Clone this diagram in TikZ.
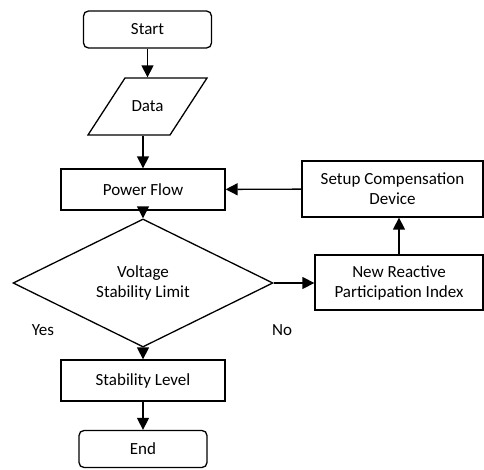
\documentclass[tikz,border=0pt]{standalone}
\usepackage{fontspec}
\setmainfont{Carlito}
\usepackage{tikz}
\usetikzlibrary{shapes.geometric}
\usetikzlibrary{arrows.meta}
\tikzstyle{Terminal}=[rectangle,rounded corners=5pt,draw,line width=1.3pt,minimum width=128pt,minimum height=37pt,inner sep=0pt]
\tikzstyle{InputBox}=[trapezium,trapezium left angle=57,trapezium right angle=123,draw,line width=1.3pt,text width=32pt,align=center,text height=11pt,text depth=0pt,inner xsep=6.5pt,inner ysep=23pt]
\tikzstyle{ProcBox}=[rectangle,draw,line width=1.3pt,minimum width=164pt,minimum height=41pt,inner sep=0pt,align=center]
\tikzstyle{Decision}=[diamond,draw,line width=1.3pt,minimum width=260pt,minimum height=97pt,inner sep=0pt,align=center]
\tikzstyle{FlowArrow}=[line width=1.4pt,-{Triangle[length=12pt,width=12pt]}]
\begin{document}
\begin{tikzpicture}[x=1pt,y=-1pt,font=\fontsize{17}{20}\selectfont]
        \useasboundingbox(0,0)rectangle(484,470);
        \node[Terminal](start)at(147.5,29.5){Start};
        \node[InputBox](data)at(147.5,106.5){Data};
        \node[ProcBox](power)at(143,189.5){Power Flow};
        \node[ProcBox,minimum width=181pt,minimum height=56pt](setup)at(392.5,189){Setup Compensation\\Device};
        \node[Decision](limit)at(143,283){Voltage\\Stability Limit};
        \node[ProcBox,minimum width=168pt,minimum height=55pt](index)at(399,282.5){New Reactive\\Participation Index};
        \node[ProcBox](level)at(143,380.5){Stability Level};
        \node[Terminal](end)at(143,449){End};
        \node(yes)at(43,330){Yes};
        \node(no)at(282,330){No};
        \draw[FlowArrow](start)--(data);
        \draw[FlowArrow](data.south-|power.north)--(power.north);
        \draw[FlowArrow](setup)--(power);
        \draw[FlowArrow](power)--(limit);
        \draw[FlowArrow](limit.east)--(index.west|-limit.east);
        \draw[FlowArrow](index.north)--(index.north|-setup.south);
        \draw[FlowArrow](limit)--(level);
        \draw[FlowArrow](level)--(end);
    \end{tikzpicture}
\end{document}
